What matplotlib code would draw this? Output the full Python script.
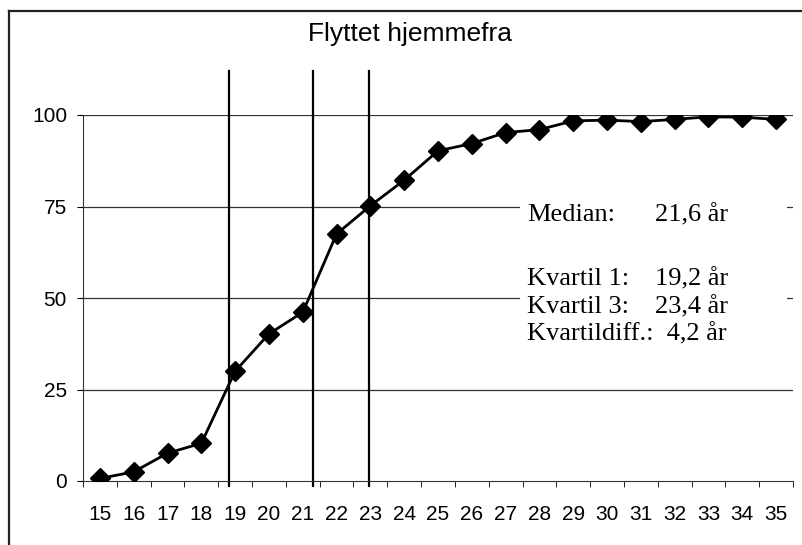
import matplotlib.pyplot as plt
from matplotlib.patches import Rectangle
from matplotlib.lines import Line2D

# data
ages = list(range(15, 36))
pct = [0.7, 2.5, 7.6, 10.3, 30.0, 40.2, 46.1, 67.5, 75.2, 82.2, 90.2,
       92.2, 95.2, 96.0, 98.4, 98.6, 98.2, 98.8, 99.5, 99.4, 98.8]
yticks = [0, 25, 50, 75, 100]
# vertical marker lines (Q1, median, Q3) as drawn on the chart
marks = [18.82, 21.3, 22.96]
stat_labels = ["Median:", "Kvartil 1:", "Kvartil 3:", "Kvartildiff.:  4,2 år"]
stat_values = ["21,6 år", "19,2 år", "23,4 år", ""]

W, H = 802, 545
fig = plt.figure(figsize=(W / 100, H / 100), dpi=100)
plt.rc("font", family="Liberation Sans")

ax = fig.add_axes([83 / W, 1 - 481 / H, 710 / W, 366 / H])
ax.plot(ages, pct, color="black", lw=2, marker="D", markersize=10, zorder=3)

# gridlines
for v in yticks[1:]:
    ax.axhline(v, color="#333333", lw=0.9, zorder=1)

# vertical lines poking out above the plot
for m in marks:
    ax.plot([m, m], [-1.4, 112], color="black", lw=1.6, clip_on=False, zorder=2)

ax.set_xlim(14.5, 35.5)
ax.set_ylim(0, 100)
ax.set_yticks(yticks)
ax.set_xticks(ages)
ax.set_xticks([a - 0.5 for a in ages] + [35.5], minor=True)
ax.tick_params(axis="x", which="major", length=0, pad=17, labelsize=15)
ax.tick_params(axis="x", which="minor", length=4.5, direction="out")
ax.tick_params(axis="y", length=4.5, pad=7, labelsize=15)
ax.spines["top"].set_visible(False)
ax.spines["right"].set_visible(False)
ax.spines["left"].set_color("#333333")
ax.spines["bottom"].set_color("#333333")

fig.text(410 / W, 1 - 34 / H, "Flyttet hjemmefra", ha="center", va="center",
         fontsize=19)

# outer frame (top and left edges only visible)
fig.add_artist(Line2D([9 / W, 9 / W], [0, 1 - 11 / H], color="#222222", lw=1.6))
fig.add_artist(Line2D([9 / W, 1], [1 - 11 / H, 1 - 11 / H], color="#222222", lw=1.6))

# text box with the statistics
fig.add_artist(Rectangle((520 / W, 1 - 345 / H), 267 / W, 155 / H,
                         transform=fig.transFigure, facecolor="white",
                         edgecolor="none", zorder=5))
rows_y = [215, 279, 307, 334]
for lab, val, yy in zip(stat_labels, stat_values, rows_y):
    fig.text(527 / W, 1 - yy / H, lab, va="center", ha="left",
             fontsize=19, family="Liberation Serif", zorder=6)
    if val:
        fig.text(655 / W, 1 - yy / H, val, va="center", ha="left",
                 fontsize=19, family="Liberation Serif", zorder=6)

fig.savefig("out.png", dpi=100)
